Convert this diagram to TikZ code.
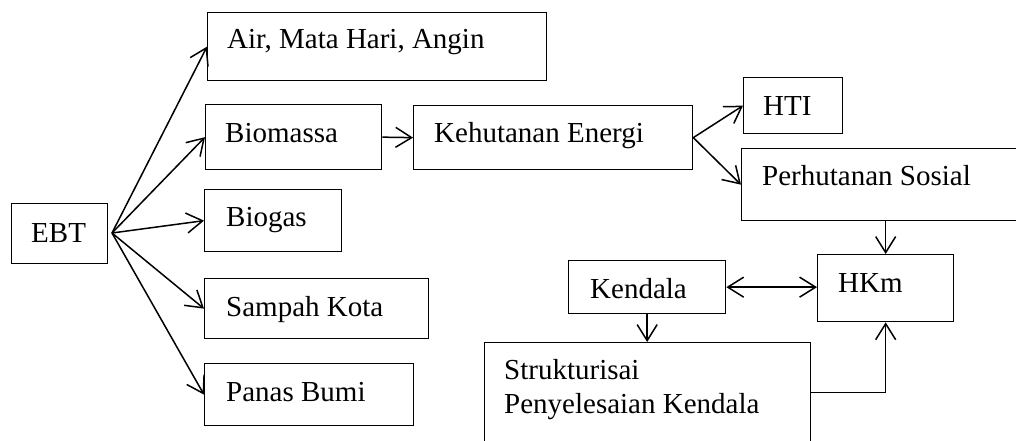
\documentclass[tikz,border=0pt]{standalone}
\usepackage{fontspec}
\setmainfont{Liberation Serif}
\usetikzlibrary{arrows.meta}
\begin{document}
\begin{tikzpicture}[x=1pt,y=-1pt,
  box/.style={draw, line width=1.3pt, inner sep=0pt, anchor=north west},
  txt/.style={anchor=base west, inner sep=0pt, font=\fontsize{29}{34}\selectfont},
  tip/.style={Straight Barb[length=16pt,width=20pt,line width=1.5pt]},
  arr/.style={line width=1.5pt, -{Straight Barb[length=16pt,width=20pt,line width=1.5pt]}},
  darr/.style={line width=1.5pt, {Straight Barb[length=16pt,width=20pt,line width=1.5pt]}-{Straight Barb[length=16pt,width=20pt,line width=1.5pt]}}]
\useasboundingbox (0,0) rectangle (1016,441);
\clip (0,0) rectangle (1016,441);
% boxes
\node[box, minimum width=96pt,  minimum height=60pt] (ebt)  at (11,203) {};
\node[box, minimum width=339pt, minimum height=68pt] (air)  at (207,12) {};
\node[box, minimum width=176pt, minimum height=65pt] (bio)  at (205,104) {};
\node[box, minimum width=137pt, minimum height=62pt] (bgs)  at (204,189) {};
\node[box, minimum width=224pt, minimum height=60pt] (smp)  at (204,278) {};
\node[box, minimum width=209pt, minimum height=62pt] (pns)  at (204,363) {};
\node[box, minimum width=279pt, minimum height=64pt] (keh)  at (413,105) {};
\node[box, minimum width=99pt,  minimum height=56pt] (hti)  at (743,77) {};
\node[box, minimum width=285pt, minimum height=72pt] (per)  at (741,148) {};
\node[box, minimum width=157pt, minimum height=53pt] (ken)  at (568,260) {};
\node[box, minimum width=136pt, minimum height=67pt] (hkm)  at (817,254) {};
\node[box, minimum width=326pt, minimum height=100pt] (str) at (484,342) {};
% texts
\node[txt] (ebtt) at (31,242) {EBT};
\node[txt] (airt) at (227,49) {Air, Mata Hari, Angin};
\node[txt] (biot) at (225,142) {Biomassa};
\node[txt] (bgst) at (226,226) {Biogas};
\node[txt] (smpt) at (226,316) {Sampah Kota};
\node[txt] (pnst) at (226,401) {Panas Bumi};
\node[txt] (keht) at (434,142) {Kehutanan Energi};
\node[txt] (htit) at (763,115) {HTI};
\node[txt] (pert) at (762,185) {Perhutanan Sosial};
\node[txt] (kent) at (590,298) {Kendala};
\node[txt] (hkmt) at (838,292) {HKm};
\node[txt] (strt1) at (504,379) {Strukturisai};
\node[txt] (strt2) at (504,413) {Penyelesaian Kendala};
% connectors
\coordinate (o) at (112,233);
\draw[arr] (o) -- (air.west);
\draw[arr] (o) -- (bio.west);
\draw[arr] (o) -- (bgs.west);
\draw[arr] (o) -- (smp.west);
\draw[arr] (o) -- (pns.west);
\draw[arr] (bio.east) -- (keh.west);
\draw[arr] (keh.east) -- (hti.west);
\draw[arr] (keh.east) -- (per.west);
\draw[arr] (hkm.north |- per.south) -- (hkm.north);
\draw[darr] (ken.east) -- (hkm.west |- ken.east);
\draw[arr] (ken.south) -- (str.north -| ken.south);
\draw[arr] (str.east) -| (hkm.south);
\end{tikzpicture}
\end{document}
